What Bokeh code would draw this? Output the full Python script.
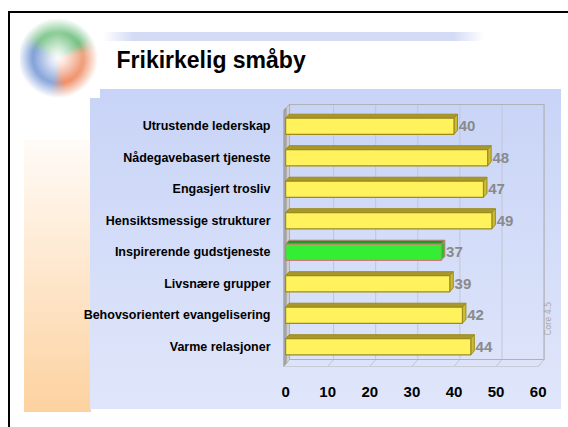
import math
from bokeh.plotting import figure
from bokeh.models import Range1d, Label, FixedTicker
from bokeh.core.properties import value
from bokeh.embed import file_html
from bokeh.resources import INLINE

# ---------------- data ----------------
categories = ["Utrustende lederskap", "Nådegavebasert tjeneste", "Engasjert trosliv",
              "Hensiktsmessige strukturer", "Inspirerende gudstjeneste", "Livsnære grupper",
              "Behovsorientert evangelisering", "Varme relasjoner"]
scores = [40, 48, 47, 49, 37, 39, 42, 44]
highlight = "Inspirerende gudstjeneste"
x_ticks = [0, 10, 20, 30, 40, 50, 60]
title_text = "Frikirkelig småby"
note_text = "Core 4.5"

# ---------------- layout / style ----------------
W, H = 568, 427
PAD = 0.254
n_cat = len(categories)
FONT = "Liberation Sans"

ypos = [n_cat - 1 - i + 0.5 for i in range(n_cat)]   # first category on top

p = figure(width=W, height=H, output_backend="svg", toolbar_location=None,
           y_range=Range1d(-PAD, n_cat + PAD), x_range=Range1d(-0.5, 64.35),
           min_border_left=283, min_border_right=12, min_border_top=102, min_border_bottom=57)
p.outline_line_color = None
p.background_fill_color = None
p.border_fill_color = None
p.xgrid.visible = False
p.ygrid.visible = False

# page decorations painted as CSS background layers of the figure element
layers = [
    ("radial-gradient(circle at 38px 40px, rgba(255,255,255,0.95) 0px, rgba(255,255,255,0.75) 7px, rgba(255,255,255,0) 24px)",
     "20px 18px", "80px 80px"),
    ("radial-gradient(circle at 38px 40px, rgba(255,255,255,0) 26px, rgba(255,255,255,1) 40px)",
     "20px 18px", "80px 80px"),
    ("conic-gradient(at 38px 40px, #8fcf9b 0deg, #78c287 55deg, #f0a584 80deg, #f1926c 165deg, #8fabdd 195deg, #86a3da 285deg, #86c893 315deg, #8fcf9b 360deg)",
     "20px 18px", "80px 80px"),
    ("linear-gradient(to right, rgba(214,221,245,0), #d4dbf5 8%, #d4dbf5 92%, rgba(214,221,245,0))",
     "103px 32px", "381px 9px"),
    ("linear-gradient(#000, #000)", "8px 11px", "2px 500px"),
    ("linear-gradient(#000, #000)", "8px 11px", "700px 2px"),
    ("linear-gradient(to bottom, #c8d4f7, #e0e6fa)", "90px 89px", "471px 320px"),
    ("linear-gradient(to bottom, #fffbf7, #fdd2a0)", "24px 140px", "67px 272px"),
]
p.styles = {
    "background-color": "white",
    "background-image": ", ".join(l[0] for l in layers),
    "background-position": ", ".join(l[1] for l in layers),
    "background-size": ", ".join(l[2] for l in layers),
    "background-repeat": "no-repeat",
}

# title
p.title.text = title_text
p.title.align = "left"
p.title.offset = -167
p.title.standoff = 60
p.title.text_font = FONT
p.title.text_font_style = "bold"
p.title.text_font_size = "23px"
p.title.text_color = "black"

# note (rotated)
p.add_layout(Label(x=548, y=318, x_units="canvas", y_units="canvas", text=note_text,
                   angle=math.pi / 2, text_font="DejaVu Sans", text_font_size="8px",
                   text_color="#a8a8a8", text_align="center", text_baseline="middle"))

# ---------------- 3D chart frame ----------------
DXC, DYC = 1.4, 0.19
FF, FB, TB = -0.127, 0.095, 8.19
X0 = -0.5
XR = x_ticks[-1] + DXC
grid_col = "#c2c6d2"

p.segment(x0=[t + DXC for t in x_ticks[1:]], y0=[FB] * (len(x_ticks) - 1),
          x1=[t + DXC for t in x_ticks[1:]], y1=[TB] * (len(x_ticks) - 1),
          line_color=grid_col, line_width=1)
p.segment(x0=x_ticks[1:], y0=[FF] * (len(x_ticks) - 1),
          x1=[t + DXC for t in x_ticks[1:]], y1=[FB] * (len(x_ticks) - 1),
          line_color=grid_col, line_width=1)
p.line(x=[X0 + DXC, XR, XR, X0 + DXC], y=[TB, TB, FB, FB],
       line_color="#b0b0b8", line_width=1)
p.line(x=[X0, x_ticks[-1], XR], y=[FF, FF, FB], line_color="#c8ccd6", line_width=1)
p.patch(x=[X0, X0, X0 + DXC, X0 + DXC], y=[FF, TB - DYC, TB, FB],
        fill_color="#a4a4a4", line_color="#979797", line_width=1)
p.patch(x=[X0 + DXC * 0.55, X0 + DXC * 0.55, X0 + DXC, X0 + DXC],
        y=[FF + 0.12, TB - DYC * 0.45, TB, FB], fill_color="#cfcfcf", line_color=None)

# ---------------- bars ----------------
BH = 0.51
DXB, DYB = 0.83, 0.127
front_cols, top_cols, side_cols, edge_cols = [], [], [], []
for c in categories:
    if c == highlight:
        front_cols.append("#33ee33"); top_cols.append("#1f9a1f")
        side_cols.append("#28c028"); edge_cols.append("#c77b7b")
    else:
        front_cols.append("#fff25c"); top_cols.append("#a8982c")
        side_cols.append("#cbbb3a"); edge_cols.append("#9c8c1c")

top_xs, top_ys, side_xs, side_ys = [], [], [], []
for v, yc in zip(scores, ypos):
    yt = yc + BH / 2
    yb = yc - BH / 2
    top_xs.append([0, v, v + DXB, DXB]); top_ys.append([yt, yt, yt + DYB, yt + DYB])
    side_xs.append([v, v + DXB, v + DXB, v]); side_ys.append([yb, yb + DYB, yt + DYB, yt])

p.patches(xs=top_xs, ys=top_ys, fill_color=top_cols, line_color=edge_cols, line_width=1)
p.patches(xs=side_xs, ys=side_ys, fill_color=side_cols, line_color=edge_cols, line_width=1)
p.hbar(y=ypos, left=0, right=scores, height=BH, fill_color=front_cols,
       line_color=edge_cols, line_width=1.2)

p.text(x=[v + DXB + 0.3 for v in scores], y=ypos, text=[str(v) for v in scores],
       text_font=value(FONT), text_font_style="bold", text_font_size="15px",
       text_color="#8a8a8a", text_baseline="middle", text_align="left")

# ---------------- axes ----------------
p.xaxis.ticker = FixedTicker(ticks=x_ticks, minor_ticks=[])
p.xaxis.axis_line_color = None
p.xaxis.major_tick_line_color = None
p.xaxis.minor_tick_line_color = None
p.xaxis.major_label_standoff = 10
p.xaxis.major_label_text_font = FONT
p.xaxis.major_label_text_font_style = "bold"
p.xaxis.major_label_text_font_size = "15px"
p.xaxis.major_label_text_color = "black"

p.yaxis.ticker = FixedTicker(ticks=ypos, minor_ticks=[])
p.yaxis.major_label_overrides = {y: c for y, c in zip(ypos, categories)}
p.yaxis.axis_line_color = None
p.yaxis.major_tick_line_color = None
p.yaxis.minor_tick_line_color = None
p.yaxis.major_label_standoff = 7
p.yaxis.major_label_text_font = FONT
p.yaxis.major_label_text_font_style = "bold"
p.yaxis.major_label_text_font_size = "12.5px"
p.yaxis.major_label_text_color = "black"

open("out.html", "w").write(file_html(p, INLINE))
